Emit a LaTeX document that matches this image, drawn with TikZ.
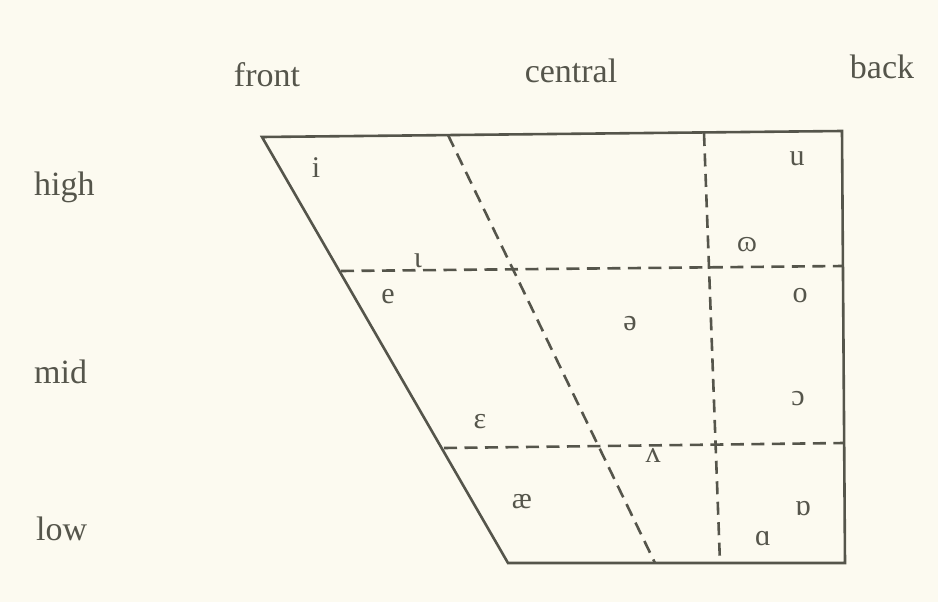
\documentclass[tikz,border=0pt]{standalone}
\usepackage{fontspec}
\setmainfont{Liberation Serif}
\definecolor{paper}{HTML}{FCFAF0}
\definecolor{ink}{HTML}{55554B}
\tikzset{
  lbl/.style={text=ink, inner sep=0pt, anchor=base, font=\fontsize{34}{40}\selectfont},
  vow/.style={text=ink, inner sep=0pt, font=\fontsize{30}{36}\selectfont},
  solidline/.style={draw=ink, line width=2.6pt, line join=miter},
  dashline/.style={draw=ink, line width=2.6pt, dash pattern=on 13pt off 7.5pt}
}
\begin{document}
\begin{tikzpicture}[x=1pt, y=-1pt]
\fill[paper] (0,0) rectangle (938,602);
\useasboundingbox (0,0) rectangle (938,602);
% corners
\coordinate (TL) at (262,137);
\coordinate (TR) at (842,131);
\coordinate (BR) at (845,563);
\coordinate (BL) at (508,563);
% dashed line ends
\coordinate (h1l) at (341,271);
\coordinate (h1r) at (843,266);
\coordinate (h2l) at (444,448);
\coordinate (h2r) at (844,443);
\coordinate (s1t) at (448,135);
\coordinate (s1b) at (655,563);
\coordinate (v1t) at (704,133);
\coordinate (v1b) at (720,563);
% lines
\draw[dashline] (h1l) -- (h1r);
\draw[dashline] (h2l) -- (h2r);
\draw[dashline] (s1t) -- (s1b);
\draw[dashline] (v1t) -- (v1b);
\draw[solidline] (TL) -- (TR) -- (BR) -- (BL) -- cycle;
% labels
\node[lbl] (front) at (267,87) {front};
\node[lbl] (central) at (571,83) {central};
\node[lbl] (back) at (882,78) {back};
\node[lbl, anchor=base west] (high) at (34,195) {high};
\node[lbl, anchor=base west] (mid) at (34,383) {mid};
\node[lbl, anchor=base west] (low) at (36,540) {low};
% vowels
\node[vow] (vi) at (316,168) {i};
\node[vow] (vI) at (418,261) {ɩ};
\node[vow] (ve) at (388,297) {e};
\node[vow] (veps) at (480,422) {ɛ};
\node[vow] (vschwa) at (630,324) {ə};
\node[vow] (vwedge) at (653,455) {ʌ};
\node[vow] (vae) at (522,502) {æ};
\node[vow] (vu) at (797,159) {u};
\node[vow] (vU) at (747,245) {ɷ};
\node[vow] (vo) at (800,296) {o};
\node[vow] (vopen) at (798,399) {ɔ};
\node[vow] (vturn) at (803,509) {ɒ};
\node[vow] (va) at (763,539) {ɑ};
\end{tikzpicture}
\end{document}
